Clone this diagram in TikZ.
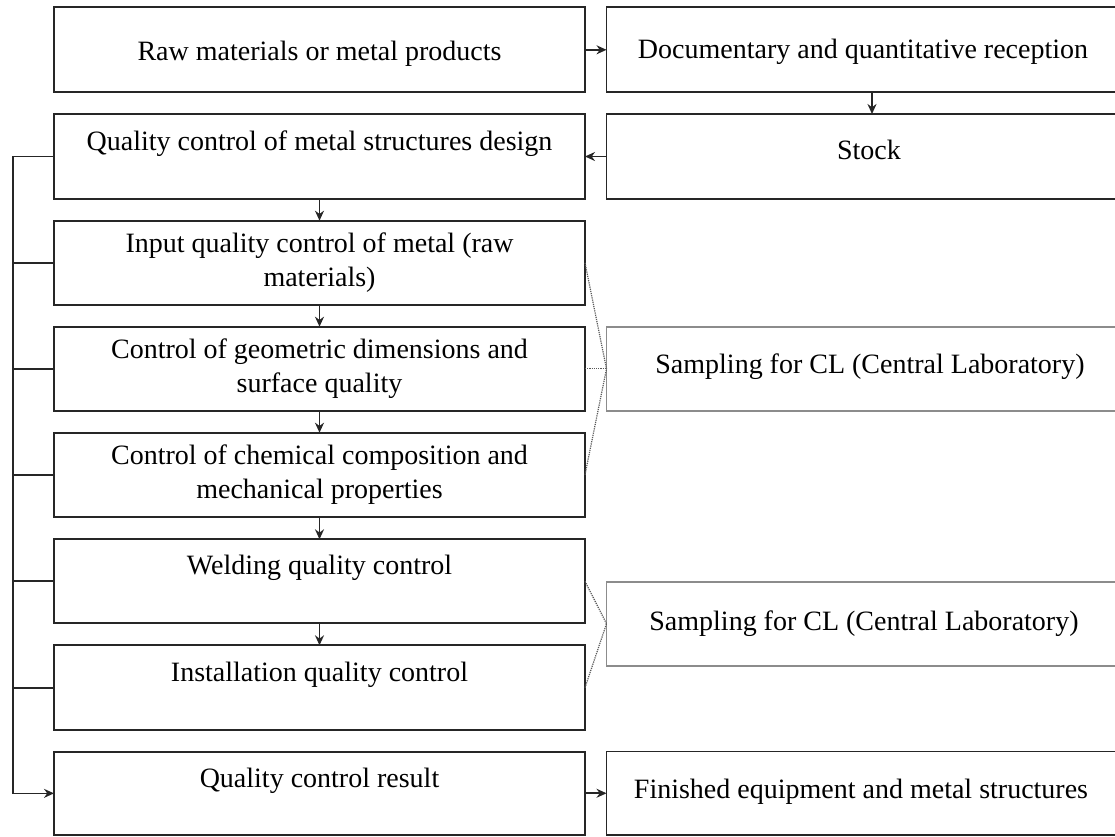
\documentclass[tikz,border=0pt]{standalone}
\usepackage{fontspec}
\setmainfont{Liberation Serif}
\usetikzlibrary{arrows.meta}
\newcommand\boxfont{\fontsize{28}{34}\selectfont}
% shift a centred label sideways by #1 (negative = left)
\newcommand\nudge[1]{\hspace*{\dimexpr 2\dimexpr #1pt\relax\relax}}
\begin{document}
\begin{tikzpicture}[x=1pt,y=-1pt,
  box/.style={draw=black!85, line width=1.9pt, inner sep=0pt, outer sep=0pt,
    minimum width=531pt, anchor=north west, align=center, font=\boxfont},
  labbox/.style={box, draw=black!45},
  flow/.style={draw=black!85, line width=1.7pt, -{Stealth[length=10pt,width=9pt]}},
  link/.style={draw=black!85, line width=1.7pt},
  sample/.style={draw=black!65, line width=1.2pt, dash pattern=on 1.2pt off 1pt}]
\useasboundingbox (0,0) rectangle (1115,836);

% left column
\node[box, text height=52.7pt, text depth=32.3pt] (b1) at (54,7.3) {Raw materials or metal products};
\node[box, text height=36pt, text depth=49pt] (b2) at (54,114) {Quality control of metal structures design};
\node[box, minimum height=84.3pt] (b3) at (54,220.7) {Input quality control of metal (raw\\materials)};
\node[box, minimum height=84.3pt] (b4) at (54,326.7) {Control of geometric dimensions and\\surface quality};
\node[box, minimum height=84pt] (b5) at (54,432.7) {Control of chemical composition and\\mechanical properties};
\node[box, text height=35.4pt, text depth=48.6pt] (b6) at (54,539.3) {Welding quality control};
\node[box, text height=36pt, text depth=48.7pt] (b7) at (54,645.3) {Installation quality control};
\node[box, text height=35.6pt, text depth=47.7pt] (b8) at (54,751.7) {Quality control result};

% right column
\node[box, text height=50.7pt, text depth=34.3pt] (r1) at (606.5,7.3) {\nudge{-9}Documentary and quantitative reception};
\node[box, text height=45pt, text depth=40pt] (stock) at (606.5,114) {\nudge{-3}Stock};
\node[labbox, text height=46.3pt, text depth=38pt] (s1) at (606.5,326.7) {\nudge{-2}Sampling for CL (Central Laboratory)};
\node[labbox, text height=49pt, text depth=35pt] (s2) at (606.5,581.7) {\nudge{-8}Sampling for CL (Central Laboratory)};
\node[box, text height=46.5pt, text depth=37pt] (r8) at (606.5,751.5) {\nudge{-11}Finished equipment and metal structures};

% main flow
\draw[flow] (b1.east) -- (r1.west);
\draw[flow] (r1.south) -- (stock.north);
\draw[flow] (stock.west) -- (b2.east);
\draw[flow] (b2.south) -- (b3.north);
\draw[flow] (b3.south) -- (b4.north);
\draw[flow] (b4.south) -- (b5.north);
\draw[flow] (b5.south) -- (b6.north);
\draw[flow] (b6.south) -- (b7.north);
\draw[flow] (r8.west -| b8.east) -- (r8.west);

% feedback bus on the left
\coordinate (bus) at (12.7,0);
\draw[flow] (b2.west) -- (b2.west -| bus) |- (b8.west);
\foreach \n in {b3,b4,b5,b6,b7}
  \draw[link] (\n.west) -- (\n.west -| bus);

% sampling links
\foreach \n in {b3,b4,b5}
  \draw[sample] (\n.east) -- (s1.west);
\foreach \n in {b6,b7}
  \draw[sample] (\n.east) -- (s2.west);
\end{tikzpicture}
\end{document}
